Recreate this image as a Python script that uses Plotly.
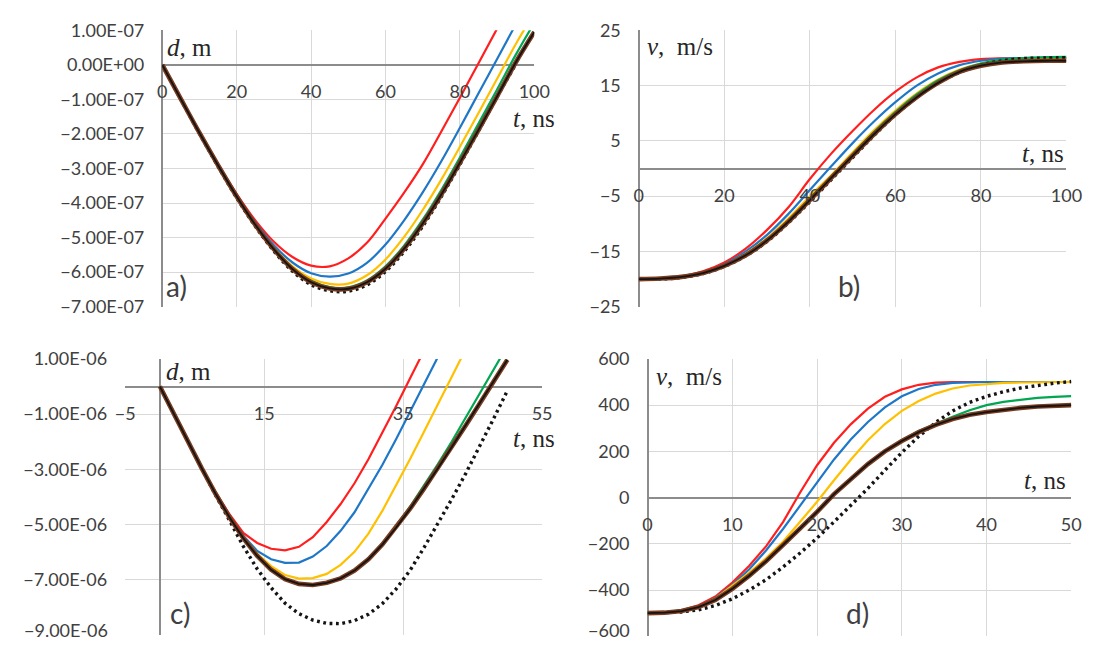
import plotly.graph_objects as go

W, H = 1100, 653

# ---------------- data ----------------
# panel a (d, units of 1e-7 m) and b (v, m/s) : t in ns
t_ab = [0, 5, 10, 15, 20, 25, 30, 35, 40, 45, 50, 55, 60, 65, 70, 75, 80, 85, 90, 95, 100]

red_a = [0, -0.99, -1.96, -2.88, -3.74, -4.50, -5.12, -5.56, -5.81, -5.83, -5.60, -5.15, -4.45, -3.70, -2.88, -1.93, -0.95, 0.05, 1.05, 2.05, 3.05]
blue_a = [0, -0.99, -1.97, -2.90, -3.78, -4.56, -5.22, -5.72, -6.03, -6.13, -6.04, -5.73, -5.20, -4.50, -3.69, -2.79, -1.82, -0.82, 0.17, 1.17, 2.17]
yellow_a = [0, -0.99, -1.97, -2.91, -3.80, -4.60, -5.29, -5.83, -6.18, -6.34, -6.33, -6.09, -5.63, -4.98, -4.20, -3.32, -2.37, -1.39, -0.40, 0.60, 1.50]
green_a = [0, -0.99, -1.97, -2.91, -3.81, -4.62, -5.32, -5.88, -6.25, -6.43, -6.44, -6.24, -5.83, -5.23, -4.48, -3.62, -2.68, -1.70, -0.71, 0.29, 1.22]
brown_a = [0, -0.99, -1.97, -2.91, -3.81, -4.63, -5.34, -5.91, -6.29, -6.47, -6.48, -6.29, -5.90, -5.32, -4.59, -3.75, -2.83, -1.88, -0.91, 0.07, 0.95]
dotted_a = [0, -1.0, -1.99, -2.94, -3.85, -4.67, -5.39, -5.97, -6.36, -6.54, -6.55, -6.37, -5.98, -5.40, -4.67, -3.81, -2.88, -1.91, -0.92, 0.02]

red_b = [-20, -19.9, -19.5, -18.6, -17.0, -14.5, -11.1, -7.0, -1.9, 2.7, 6.8, 10.6, 13.9, 16.5, 18.3, 19.3, 19.8, 19.95, 20.0, 20.0, 20.0]
blue_b = [-20, -19.9, -19.6, -18.8, -17.3, -15.0, -12.0, -8.2, -3.9, 0.4, 4.6, 8.5, 12.0, 15.0, 17.2, 18.7, 19.5, 19.9, 20.0, 20.0, 20.0]
yellow_b = [-20, -19.9, -19.6, -18.9, -17.5, -15.4, -12.6, -9.0, -5.0, -1.2, 2.9, 6.9, 10.5, 13.6, 16.1, 17.9, 19.0, 19.6, 19.9, 20.0, 20.05]
green_b = [-20, -19.9, -19.6, -18.9, -17.6, -15.6, -12.9, -9.4, -5.5, -1.5, 2.6, 6.6, 10.2, 13.4, 16.0, 17.8, 19.0, 19.7, 20.0, 20.15, 20.2]
brown_b = [-20, -19.9, -19.6, -18.9, -17.6, -15.7, -13.0, -9.6, -5.7, -1.7, 2.3, 6.2, 9.8, 12.9, 15.5, 17.5, 18.6, 19.2, 19.4, 19.5, 19.5]
dotted_b = [-20, -20.0, -19.7, -19.0, -17.7, -15.8, -13.2, -9.8, -6.0, -2.0, 2.0, 6.0, 9.7, 12.9, 15.5, 17.4, 18.7, 19.5, 19.9, 20.0, 20.05]

# panel c (d, units of 1e-6 m) and d (v, m/s) : t in ns
t_cd = [0, 2, 4, 6, 8, 10, 12, 14, 16, 18, 20, 22, 24, 26, 28, 30, 32, 34, 36, 38, 40, 42, 44, 46, 48, 50]

red_c = [0, -1.0, -1.98, -2.93, -3.82, -4.62, -5.30, -5.66, -5.87, -5.93, -5.80, -5.45, -4.90, -4.25, -3.50, -2.63, -1.68, -0.70, 0.30, 1.30, 2.30, 3.30, 4.30, 5.30, 6.30, 7.30]
blue_c = [0, -1.0, -1.98, -2.94, -3.85, -4.68, -5.40, -5.95, -6.25, -6.38, -6.37, -6.15, -5.77, -5.22, -4.55, -3.72, -2.84, -1.90, -0.92, 0.07, 1.07, 2.07, 3.07, 4.07, 5.07, 6.07]
yellow_c = [0, -1.0, -1.98, -2.94, -3.86, -4.70, -5.44, -6.05, -6.50, -6.82, -6.95, -6.93, -6.78, -6.45, -5.98, -5.32, -4.50, -3.58, -2.62, -1.64, -0.65, 0.35, 1.35, 2.35, 3.35, 4.35]
green_c = [0, -1.0, -1.98, -2.95, -3.88, -4.73, -5.49, -6.13, -6.63, -6.97, -7.14, -7.18, -7.10, -6.93, -6.64, -6.22, -5.68, -5.04, -4.34, -3.59, -2.81, -1.99, -1.14, -0.28, 0.59, 1.47]
brown_c = [0, -1.0, -1.98, -2.95, -3.88, -4.73, -5.49, -6.13, -6.63, -6.97, -7.14, -7.18, -7.10, -6.94, -6.66, -6.25, -5.72, -5.10, -4.42, -3.70, -2.96, -2.19, -1.41, -0.62, 0.17, 0.97]
dotted_c = [0, -1.0, -1.99, -2.97, -3.93, -4.84, -5.78, -6.60, -7.28, -7.84, -8.22, -8.45, -8.57, -8.58, -8.47, -8.24, -7.86, -7.32, -6.65, -5.83, -4.96, -4.07, -3.15, -2.19, -1.17, -0.15]

red_d = [-500, -497, -488, -466, -428, -368, -295, -210, -105, 22, 140, 237, 318, 385, 436, 468, 488, 497, 500, 500, 500, 500, 500, 500, 500, 500]
blue_d = [-500, -497, -489, -470, -435, -378, -310, -228, -135, -35, 68, 165, 252, 327, 390, 438, 470, 488, 496, 499, 500, 500, 500, 500, 500, 500]
yellow_d = [-500, -497, -489, -471, -437, -382, -325, -262, -190, -105, -18, 75, 165, 248, 318, 375, 418, 450, 472, 485, 492, 496, 498, 499, 500, 500]
green_d = [-500, -498, -491, -474, -443, -395, -338, -275, -205, -135, -62, 15, 80, 145, 200, 248, 288, 320, 350, 378, 400, 414, 424, 431, 436, 439]
brown_d = [-500, -498, -491, -474, -443, -395, -338, -275, -205, -135, -62, 15, 80, 145, 200, 245, 283, 315, 340, 358, 370, 380, 388, 394, 398, 400]
dotted_d = [-500, -499, -495, -486, -467, -438, -400, -355, -300, -240, -175, -105, -35, 40, 118, 195, 265, 325, 375, 412, 438, 458, 474, 486, 495, 502]

# tick labels
a_yvals = [1, 0, -1, -2, -3, -4, -5, -6, -7]
a_ytext = ["1.00E-07", "0.00E+00", "\u22121.00E-07", "\u22122.00E-07", "\u22123.00E-07",
           "\u22124.00E-07", "\u22125.00E-07", "\u22126.00E-07", "\u22127.00E-07"]
ab_xvals = [0, 20, 40, 60, 80, 100]
b_yvals = [25, 15, 5, -5, -15, -25]
b_ytext = ["25", "15", "5", "\u22125", "\u221215", "\u221225"]
c_yvals = [1, -1, -3, -5, -7, -9]
c_ytext = ["1.00E-06", "\u22121.00E-06", "\u22123.00E-06", "\u22125.00E-06", "\u22127.00E-06", "\u22129.00E-06"]
c_xvals = [-5, 15, 35, 55]
c_xtext = ["\u22125", "15", "35", "55"]
d_yvals = [600, 400, 200, 0, -200, -400, -600]
d_ytext = ["600", "400", "200", "0", "\u2212200", "\u2212400", "\u2212600"]
d_xvals = [0, 10, 20, 30, 40, 50]

SCALE_A = 1e-7
SCALE_C = 1e-6

# ---------------- styling ----------------
C_RED = "#FF1F1F"
C_BLUE = "#1F77C8"
C_YEL = "#FFC000"
C_GRN = "#00A650"
C_BRN = "#7A3B1E"
C_BLK = "#141414"
GRID = "#D9D9D9"
AXL = "#8C8C8C"
TXT = "#404040"
TICKFONT = dict(family="Lato, Noto Sans, sans-serif", size=18, color=TXT)


def hx(px):
    return px / W


def vy(py):
    return 1 - py / H


panels = {
    "a": ("x", "y", (156, 537), (19, 305), [0, 100], [-7 * SCALE_A, 1 * SCALE_A]),
    "b": ("x2", "y2", (644, 1082), (19, 305), [0, 100], [-25, 25]),
    "c": ("x3", "y3", (118, 545), (359, 645), [-5, 55], [-9 * SCALE_C, 1 * SCALE_C]),
    "d": ("x4", "y4", (653, 1087), (359, 646), [0, 50], [-600, 600]),
}

fig = go.Figure()


def visible_part(xs, arr, top):
    """Keep points up to (and including) the first one past the top of the axis."""
    out_x, out_y = [], []
    for xv, yv in zip(xs, arr):
        out_x.append(xv)
        out_y.append(yv)
        if yv > top:
            break
    return out_x, out_y


def add_set(xs, data, xa, ya, shape, scale=1.0, top=1e99):
    r, b, yv, g, br, dt = data
    def line(arr, **kw):
        px, py = visible_part(xs, arr, top)
        fig.add_trace(go.Scatter(x=px, y=[v * scale for v in py], mode="lines",
                                 xaxis=xa, yaxis=ya, line=dict(shape=shape, **kw),
                                 hoverinfo="skip"))
    for arr, col in ((r, C_RED), (b, C_BLUE), (yv, C_YEL), (g, C_GRN)):
        line(arr, color=col, width=2.2)
    line(dt, color=C_BLK, width=3.4, dash="2.8px,3.6px")
    line(br, color=C_BRN, width=4.6)
    line(br, color=C_BLK, width=1.8)


add_set(t_ab, (red_a, blue_a, yellow_a, green_a, brown_a, dotted_a), "x", "y", "spline", SCALE_A, 1)
add_set(t_ab, (red_b, blue_b, yellow_b, green_b, brown_b, dotted_b), "x2", "y2", "spline")
add_set(t_cd, (red_c, blue_c, yellow_c, green_c, brown_c, dotted_c), "x3", "y3", "linear", SCALE_C, 1)
add_set(t_cd, (red_d, blue_d, yellow_d, green_d, brown_d, dotted_d), "x4", "y4", "linear")

# the lowest y tick labels of panels c and d are written as annotations that sit
# fully inside the page (the axis keeps the gridline with an empty label)
c_ytext_axis = c_ytext[:-1] + [""]
d_ytext_axis = d_ytext[:-1] + [""]

ticks = {
    "a": (ab_xvals, [str(v) for v in ab_xvals], [v * SCALE_A for v in a_yvals], a_ytext),
    "b": (ab_xvals, [str(v) for v in ab_xvals], b_yvals, b_ytext),
    "c": (c_xvals, c_xtext, [v * SCALE_C for v in c_yvals], c_ytext_axis),
    "d": (d_xvals, [str(v) for v in d_xvals], d_yvals, d_ytext_axis),
}

layout = {}
for name, (xa, ya, (x0, x1), (yt, yb), xr, yr) in panels.items():
    xd = [hx(x0), hx(x1)]
    yd = [vy(yb), vy(yt)]
    zero_frac = (0 - yr[0]) / (yr[1] - yr[0])
    zero_pos = yd[0] + zero_frac * (yd[1] - yd[0])
    xv, xt, yv, yt_ = ticks[name]
    xkey = "xaxis" + xa[1:]
    ykey = "yaxis" + ya[1:]
    layout[xkey] = dict(domain=xd, range=xr, tickmode="array", tickvals=xv, ticktext=xt,
                        showgrid=True, gridcolor=GRID, gridwidth=1.3,
                        zeroline=True, zerolinecolor=AXL, zerolinewidth=1.6,
                        showline=False, ticks="", anchor="free", position=zero_pos,
                        tickfont=TICKFONT, ticklabelstandoff=14, fixedrange=True)
    layout[ykey] = dict(domain=yd, range=yr, tickmode="array", tickvals=yv, ticktext=yt_,
                        showgrid=True, gridcolor=GRID, gridwidth=1.3,
                        zeroline=True, zerolinecolor=AXL, zerolinewidth=1.6,
                        showline=False, ticks="", anchor=xa, tickfont=TICKFONT,
                        ticklabelstandoff=17, fixedrange=True)

SERIF = "Liberation Serif, DejaVu Serif, serif"
LBL = dict(family=SERIF, size=25, color="#262626")
PL = dict(family="Lato, Noto Sans, sans-serif", size=28, color=TXT)

annotations = []


def ann(text, px, py, xanchor, font, yanchor="middle"):
    annotations.append(dict(text=text, x=hx(px), y=vy(py), xref="paper", yref="paper",
                            xanchor=xanchor, yanchor=yanchor, showarrow=False, font=font,
                            borderpad=0))


ann("<i>d</i>, m", 160, 37, "left", LBL)
ann("<i>t</i>, ns", 559, 110, "right", LBL)
ann("<i>v</i>,  m/s", 651, 36, "left", LBL)
ann("<i>t</i>, ns", 1081, 146, "right", LBL)
ann("<i>d</i>, m", 159, 372, "left", LBL)
ann("<i>t</i>, ns", 559, 441, "right", LBL)
ann("<i>v</i>,  m/s", 661, 377, "left", LBL)
ann("<i>t</i>, ns", 1083, 485, "right", LBL)
ann("a)", 159, 284, "left", PL)
ann("b)", 847, 284, "left", PL)
ann("c)", 163, 622, "left", PL)
ann("d)", 855, 622, "left", PL)
# lowest y tick labels (kept inside the page)
ann(c_ytext[-1], 118 - 17, 652, "right", TICKFONT, "bottom")
ann(d_ytext[-1], 653 - 17, 652, "right", TICKFONT, "bottom")

fig.update_layout(
    width=W, height=H, margin=dict(l=0, r=0, t=0, b=0),
    paper_bgcolor="white", plot_bgcolor="white", showlegend=False,
    annotations=annotations, **layout
)

fig.write_html("out.html")
